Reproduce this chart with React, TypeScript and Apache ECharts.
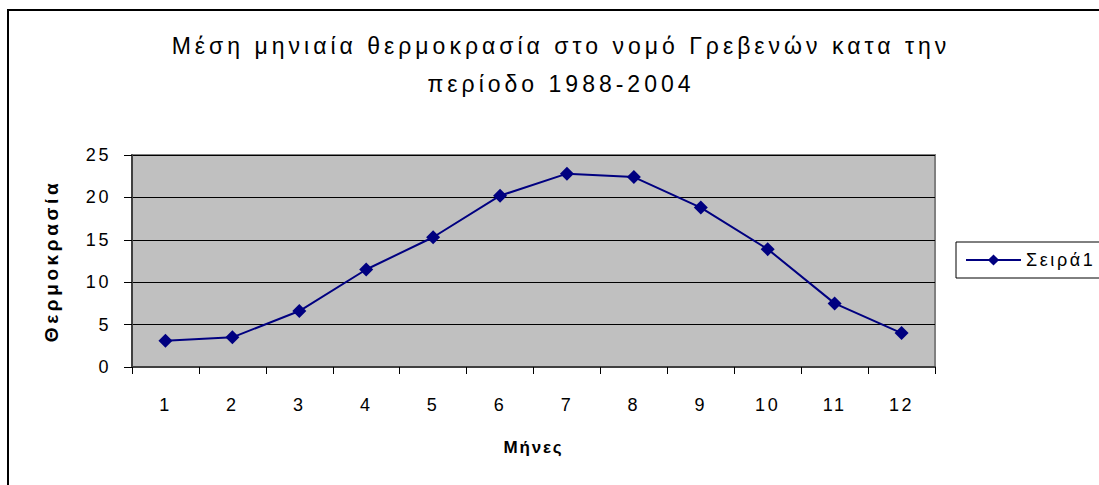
import React, { useEffect, useRef } from "react";
import * as echarts from "echarts";

const titleLines = ["Μέση μηνιαία θερμοκρασία στο νομό Γρεβενών κατα την", "περίοδο 1988-2004"];
const months = ["1", "2", "3", "4", "5", "6", "7", "8", "9", "10", "11", "12"];
const temps = [3.1, 3.5, 6.6, 11.5, 15.3, 20.2, 22.8, 22.4, 18.8, 13.9, 7.5, 4.0];
const seriesName = "Σειρά1";
const xName = "Μήνες";
const yName = "Θερμοκρασία";

const FONT = "'Liberation Sans', Arial, sans-serif";

const css = `
#chart-root svg text[style*="23px"] { letter-spacing: 4px; }
#chart-root svg text[style*="18px"] { letter-spacing: 2.6px; }
#chart-root svg text[style*="19px"] { letter-spacing: 3.6px; }
#chart-root svg text[style*="17px"] { letter-spacing: 1.8px; }
`;

export default function App() {
  const ref = useRef<HTMLDivElement>(null);
  useEffect(() => {
    document.body.style.margin = "0";
    const chart = echarts.init(ref.current!, null, { renderer: "svg" });
    chart.setOption({
      animation: false,
      backgroundColor: "#ffffff",
      textStyle: { fontFamily: FONT },
      graphic: [
        {
          type: "rect",
          shape: { x: 8, y: 10, width: 1200, height: 600 },
          style: { fill: "none", stroke: "#000000", lineWidth: 2 },
          silent: true,
        },
        {
          type: "text",
          x: 561,
          y: 65,
          style: {
            text: titleLines.join("\n"),
            font: "23px " + FONT,
            lineHeight: 38,
            textAlign: "center",
            textVerticalAlign: "middle",
            fill: "#000000",
          },
        },
      ],
      legend: {
        left: 956,
        top: 242,
        orient: "vertical",
        data: [seriesName],
        borderColor: "#000000",
        borderWidth: 1,
        backgroundColor: "#ffffff",
        padding: [9, 40, 9, 9],
        itemWidth: 55,
        itemHeight: 14,
        itemGap: 0,
        textStyle: { fontSize: 18, color: "#000000", fontFamily: FONT },
      },
      grid: {
        left: 132,
        right: 164,
        top: 155,
        bottom: 118,
        show: true,
        backgroundColor: "#C0C0C0",
        borderColor: "#808080",
        borderWidth: 2,
      },
      xAxis: {
        type: "category",
        data: months,
        boundaryGap: true,
        name: xName,
        nameLocation: "middle",
        nameGap: 72,
        nameTextStyle: { fontSize: 17, fontWeight: "bold", color: "#000000" },
        axisLine: { show: true, lineStyle: { color: "#404040", width: 2 } },
        axisTick: { show: true, length: 7, interval: 0, lineStyle: { color: "#000000" } },
        axisLabel: { fontSize: 18, color: "#000000", margin: 29, interval: 0 },
        splitLine: { show: false },
      },
      yAxis: {
        type: "value",
        min: 0,
        max: 25,
        interval: 5,
        name: yName,
        nameLocation: "middle",
        nameRotate: 90,
        nameGap: 71,
        nameTextStyle: { fontSize: 19, fontWeight: "bold", color: "#000000" },
        axisLine: { show: true, lineStyle: { color: "#404040", width: 2 } },
        axisTick: { show: true, length: 8, lineStyle: { color: "#000000" } },
        axisLabel: { fontSize: 18, color: "#000000", margin: 21 },
        splitLine: { show: true, lineStyle: { color: "#000000", width: 1 } },
      },
      series: [
        {
          name: seriesName,
          type: "line",
          data: temps,
          symbol: "diamond",
          symbolSize: 14,
          lineStyle: { color: "#000080", width: 2 },
          itemStyle: { color: "#000080" },
        },
      ],
    });
    return () => chart.dispose();
  }, []);
  return (
    <>
      <style>{css}</style>
      <div id="chart-root" ref={ref} style={{ width: 1099, height: 485 }} />
    </>
  );
}
